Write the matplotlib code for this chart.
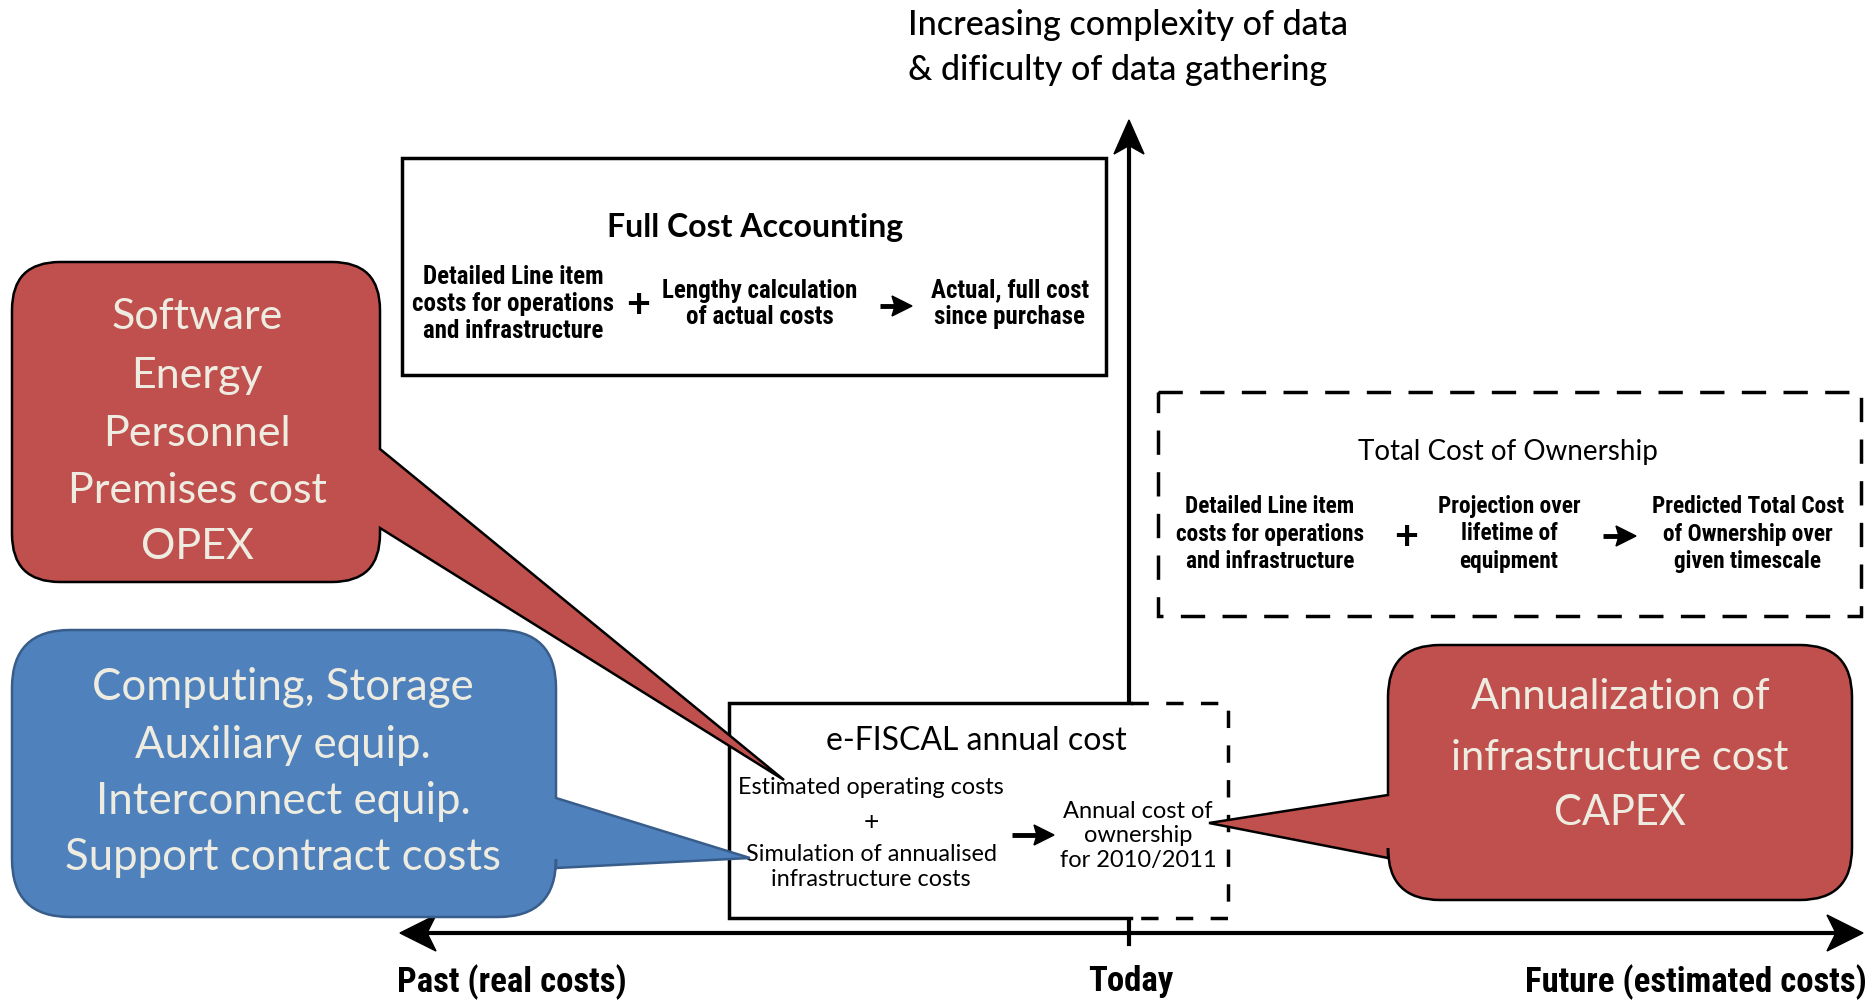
import matplotlib
matplotlib.use("Agg")
import matplotlib.pyplot as plt
from matplotlib import font_manager
from matplotlib.path import Path
from matplotlib.patches import PathPatch, Rectangle, Polygon

# ---- texts ----
title_lines = ["Increasing complexity of data", "& dificulty of data gathering"]
axis_labels = ["Past (real costs)", "Today", "Future (estimated costs)"]

fca_title = "Full Cost Accounting"
fca_cols = ["Detailed Line item\ncosts for operations\nand infrastructure",
            "Lengthy calculation\nof actual costs",
            "Actual, full cost\nsince purchase"]

tco_title = "Total Cost of Ownership"
tco_cols = ["Detailed Line item\ncosts for operations\nand infrastructure",
            "Projection over\nlifetime of\nequipment",
            "Predicted Total Cost\nof Ownership over\ngiven timescale"]

efiscal_title = "e-FISCAL annual cost"
efiscal_left = ["Estimated operating costs", "+",
                "Simulation of annualised\ninfrastructure costs"]
efiscal_right = "Annual cost of\nownership\nfor 2010/2011"

opex_lines = ["Software", "Energy", "Personnel", "Premises cost", "OPEX"]
hw_lines = ["Computing, Storage", "Auxiliary equip.", "Interconnect equip.",
            "Support contract costs"]
capex_lines = ["Annualization of", "infrastructure cost", "CAPEX"]

RED = "#C0504D"
BLUE = "#4F81BD"
CREAM = "#EEECE1"
REG = ["Lato", "DejaVu Sans"]

# narrow face for the semibold condensed labels, Lato if none is there
names = {f.name for f in font_manager.fontManager.ttflist}
COND, CK = ["Lato", "DejaVu Sans"], 0.82
for nm, k in [("Roboto Condensed", 1.0), ("Liberation Sans Narrow", 1.02)]:
    if nm in names:
        COND, CK = [nm, "DejaVu Sans"], k
        break

fig = plt.figure(figsize=(18.75, 10), dpi=100)
ax = fig.add_axes([0, 0, 1, 1])
ax.set_xlim(0, 1875)
ax.set_ylim(1000, 0)
ax.axis("off")


def callout(x0, y0, x1, y1, r, side, b1, b2, tip, fc, ec, z):
    # rounded rectangle with a pointed tail on one side
    v = [(x0 + r, y0), (x1 - r, y0), (x1, y0), (x1, y0 + r)]
    c = [Path.MOVETO, Path.LINETO, Path.CURVE3, Path.CURVE3]
    if side == "right":
        v += [(x1, b1), tip, (x1, b2)]
        c += [Path.LINETO] * 3
    v += [(x1, y1 - r), (x1, y1), (x1 - r, y1), (x0 + r, y1), (x0, y1), (x0, y1 - r)]
    c += [Path.LINETO, Path.CURVE3, Path.CURVE3, Path.LINETO, Path.CURVE3, Path.CURVE3]
    if side == "left":
        v += [(x0, b2), tip, (x0, b1)]
        c += [Path.LINETO] * 3
    v += [(x0, y0 + r), (x0, y0), (x0 + r, y0), (x0 + r, y0)]
    c += [Path.LINETO, Path.CURVE3, Path.CURVE3, Path.CLOSEPOLY]
    ax.add_patch(PathPatch(Path(v, c), fc=fc, ec=ec, lw=1.8, zorder=z))


def dart(tx, ty, dx, dy, length, half, notch=0.25, z=5):
    # swept arrow head pointing along (dx, dy)
    px, py = -dy, dx
    bx, by = tx - dx * length, ty - dy * length
    pts = [(tx, ty), (bx + px * half, by + py * half),
           (tx - dx * length * (1 - notch), ty - dy * length * (1 - notch)),
           (bx - px * half, by - py * half)]
    ax.add_patch(Polygon(pts, closed=True, fc="black", ec="black", lw=1, zorder=z))


def arrow(x1, x2, y, z=5):
    ax.plot([x1, x2 - 12], [y, y], color="black", lw=3.5, zorder=z,
            solid_capstyle="butt")
    dart(x2, y, 1, 0, 20, 10, notch=0.15, z=z)


# ---- axes ----
ax.plot([408, 1855], [933, 933], color="black", lw=3, zorder=2)
dart(400, 933, -1, 0, 36, 18)
dart(1863, 933, 1, 0, 36, 18)
ax.plot([1129, 1129], [944, 140], color="black", lw=3, zorder=2)
dart(1129, 120, 0, -1, 34, 15)

for cy, t in zip([25, 70], title_lines):
    ax.text(908, cy, t, ha="left", va="center", fontsize=24.5, family=REG,
            fontweight="medium")
ax.text(397, 982, axis_labels[0], ha="left", va="center", fontsize=25 * CK,
        family=COND, fontweight="bold")
ax.text(1131, 982, axis_labels[1], ha="center", va="center", fontsize=25 * CK,
        family=COND, fontweight="bold")
ax.text(1867, 982, axis_labels[2], ha="right", va="center", fontsize=25 * CK,
        family=COND, fontweight="bold")

# ---- Full Cost Accounting ----
ax.add_patch(Rectangle((402, 158), 704, 217, fc="white", ec="black", lw=2.5, zorder=3))
ax.text(755, 228, fca_title, ha="center", va="center", fontsize=23,
        family=REG, fontweight="bold", zorder=4)
for cx, cy, t in zip([513, 760, 1010], [304, 304, 304], fca_cols):
    ax.text(cx, cy, t, ha="center", va="center", fontsize=18 * CK, family=COND,
            fontweight="bold", linespacing=1.15, zorder=4)
ax.text(638, 306, "+", ha="center", va="center", fontsize=30, fontweight="bold",
        family=REG, zorder=4)
arrow(880, 912, 306)

# ---- Total Cost of Ownership ----
ax.add_patch(Rectangle((1158, 392), 703, 224, fc="white", ec="black", lw=2.5,
                       ls=(0, (7, 5)), zorder=3))
ax.text(1508, 452, tco_title, ha="center", va="center", fontsize=20, family=REG,
        zorder=4)
for cx, t in zip([1270, 1509, 1748], tco_cols):
    ax.text(cx, 534, t, ha="center", va="center", fontsize=16.8 * CK, family=COND,
            fontweight="bold", linespacing=1.25, zorder=4)
ax.text(1406, 538, "+", ha="center", va="center", fontsize=30, fontweight="bold",
        family=REG, zorder=4)
arrow(1603, 1636, 536)

# ---- e-FISCAL annual cost ----
ax.add_patch(Rectangle((729, 703), 499, 215, fc="white", ec="none", zorder=3))
ax.plot([1131, 729, 729, 1131], [703, 703, 918, 918], color="black", lw=2.5,
        zorder=4, solid_joinstyle="miter")
ax.plot([1131, 1228, 1228, 1131], [703, 703, 918, 918], color="black", lw=2.5,
        ls=(0, (5, 5)), zorder=4)
ax.plot([1129, 1129], [918, 944], color="black", lw=2, zorder=4)
ax.text(976, 741, efiscal_title, ha="center", va="center", fontsize=23,
        family=REG, zorder=4)
for cy, t, fs in zip([788, 823, 867], efiscal_left, [16.8, 19, 16.8]):
    ax.text(871, cy, t, ha="center", va="center", fontsize=fs, family=REG,
            linespacing=1.2, zorder=4)
ax.text(1138, 836, efiscal_right, ha="center", va="center", fontsize=17,
        family=REG, linespacing=1.2, zorder=4)
arrow(1012, 1054, 835)

# ---- callouts ----
callout(12, 262, 380, 582, 48, "right", 449, 528, (784, 780), RED, "black", 6)
for cy, t in zip([317, 376, 434, 491, 547], opex_lines):
    ax.text(197, cy, t, ha="center", va="center", fontsize=31, color=CREAM,
            family=REG, zorder=7)

callout(12, 630, 556, 917, 58, "right", 798, 868, (750, 858), BLUE, "#385D8A", 6)
for cy, t in zip([687, 745, 802, 858], hw_lines):
    ax.text(283, cy, t, ha="center", va="center", fontsize=31.5, color=CREAM,
            family=REG, zorder=7)

callout(1388, 645, 1852, 900, 52, "left", 795, 858, (1209, 823), RED, "black", 6)
for cy, t in zip([697, 758, 813], capex_lines):
    ax.text(1620, cy, t, ha="center", va="center", fontsize=30, color=CREAM,
            family=REG, zorder=7)

fig.savefig("out.png", dpi=100, facecolor="white")
